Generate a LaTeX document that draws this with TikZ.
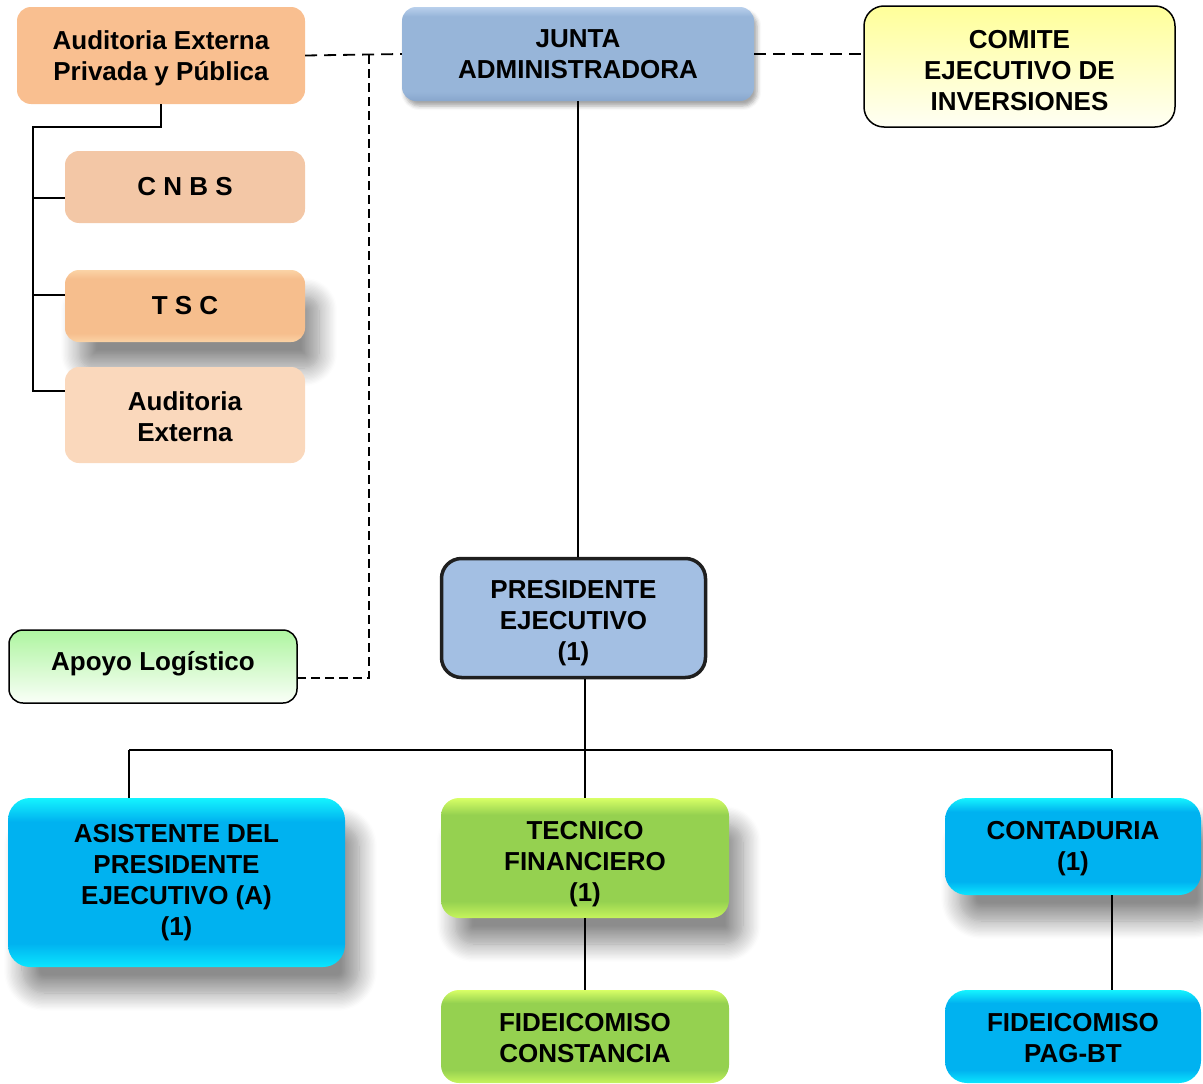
\documentclass[tikz,border=0pt]{standalone}
\usepackage{fontspec}
\setmainfont{Liberation Sans}
\usetikzlibrary{shadows.blur,calc}
\definecolor{cyT}{HTML}{14F4FF}
\definecolor{cyM}{HTML}{00B2F0}
\definecolor{cyB}{HTML}{0AE6FF}
\definecolor{grT}{HTML}{D8FF66}
\definecolor{grM}{HTML}{95D150}
\definecolor{grB}{HTML}{C6F45C}
\definecolor{blT}{HTML}{B9D0EC}
\definecolor{blM}{HTML}{97B5D9}
\definecolor{blB}{HTML}{88A6CC}
\definecolor{orA}{HTML}{F9BF90}
\definecolor{orB}{HTML}{F3C7A6}
\definecolor{orCT}{HTML}{FBD3A6}
\definecolor{orCM}{HTML}{F6BE8D}
\definecolor{orD}{HTML}{FAD8BC}
\definecolor{presfill}{HTML}{A3BFE3}
\definecolor{yelT}{HTML}{FFFF99}
\definecolor{yelB}{HTML}{FFFFF4}
\definecolor{apT}{HTML}{AEF5A0}
\definecolor{apB}{HTML}{FAFFF8}
\pgfdeclareverticalshading{cyanshade}{100bp}{color(0bp)=(cyB); color(25bp)=(cyB); color(32bp)=(cyM); color(68bp)=(cyM); color(75bp)=(cyT); color(100bp)=(cyT)}
\pgfdeclareverticalshading{greenshade}{100bp}{color(0bp)=(grB); color(25bp)=(grB); color(32bp)=(grM); color(68bp)=(grM); color(75bp)=(grT); color(100bp)=(grT)}
\pgfdeclareverticalshading{blueshade}{100bp}{color(0bp)=(blB); color(25bp)=(blB); color(30bp)=(blM); color(70bp)=(blM); color(75bp)=(blT); color(100bp)=(blT)}
\pgfdeclareverticalshading{tscshade}{100bp}{color(0bp)=(orCT); color(25bp)=(orCT); color(31bp)=(orCM); color(69bp)=(orCM); color(75bp)=(orCT); color(100bp)=(orCT)}
\newcommand\orgfont{\bfseries\fontsize{26}{31}\selectfont}
\newcommand\lowered[2]{\raisebox{-#1}[\height][\depth]{\begin{tabular}{@{}c@{}}#2\end{tabular}}}
\begin{document}
\begin{tikzpicture}[x=1pt,y=-1pt,
  orgbox/.style={rectangle, rounded corners=14pt, inner sep=0pt, align=center, font=\orgfont, text=black},
  bigshadow/.style={blur shadow={shadow xshift=14pt, shadow yshift=-26pt, shadow blur radius=18pt, shadow blur steps=14, shadow opacity=45}},
  smallshadow/.style={blur shadow={shadow xshift=3pt, shadow yshift=-5pt, shadow blur radius=4pt, shadow opacity=35}},
  cyanbox/.style={orgbox, rounded corners=22pt, shade, shading=cyanshade},
  greenbox/.style={orgbox, rounded corners=18pt, shade, shading=greenshade},
  conn/.style={line width=2pt, black},
  dconn/.style={line width=1.8pt, black, dash pattern=on 12pt off 7pt},
  vdconn/.style={line width=1.8pt, black, dash pattern=on 9pt off 5pt}
]
\useasboundingbox (0,0) rectangle (1203,1084);

% left column
\node[orgbox, fill=orA, minimum width=288pt, minimum height=97pt] (aud) at (161,55.5) {\lowered{3.5pt}{Auditoria Externa\\Privada y Pública}};
\node[orgbox, fill=orB, minimum width=240pt, minimum height=72pt] (cnbs) at (185,187) {C N B S};
\node[orgbox, shade, shading=tscshade, bigshadow, minimum width=240pt, minimum height=72pt] (tsc) at (185,306) {T S C};
\node[orgbox, fill=orD, minimum width=240pt, minimum height=96pt] (audext) at (185,415) {\lowered{5pt}{Auditoria\\Externa}};

% top row
\node[orgbox, shade, shading=blueshade, smallshadow, minimum width=352pt, minimum height=94pt] (junta) at (578,54) {JUNTA\\ADMINISTRADORA};
\node[orgbox, rounded corners=20pt, draw=black, line width=1.5pt, top color=yelT, bottom color=yelB, minimum width=311pt, minimum height=121pt] (comite) at (1019.5,66.5) {\lowered{7pt}{COMITE\\EJECUTIVO DE\\INVERSIONES}};

% president and support
\node[orgbox, rounded corners=20pt, draw=black!88, line width=3.5pt, fill=presfill, minimum width=264pt, minimum height=119pt] (pres) at (573.5,618) {\lowered{5.5pt}{PRESIDENTE\\EJECUTIVO\\(1)}};
\node[orgbox, rounded corners=14pt, draw=black, line width=1.5pt, top color=apT, bottom color=apB, minimum width=288pt, minimum height=73pt] (apoyo) at (153,666.5) {\raisebox{3pt}[\height][\depth]{Apoyo Logístico}};

% bottom row
\node[cyanbox, bigshadow, minimum width=337pt, minimum height=169pt] (asis) at (176.5,882.5) {ASISTENTE DEL\\PRESIDENTE\\EJECUTIVO (A)\\(1)};
\node[greenbox, bigshadow, minimum width=288pt, minimum height=120pt] (tec) at (585,858) {\lowered{6pt}{TECNICO\\FINANCIERO\\(1)}};
\node[cyanbox, bigshadow, minimum width=256pt, minimum height=97pt] (cont) at (1073,846.5) {\lowered{2pt}{CONTADURIA\\(1)}};
\node[greenbox, minimum width=288pt, minimum height=93pt] (fidc) at (585,1036.5) {\lowered{4pt}{FIDEICOMISO\\CONSTANCIA}};
\node[cyanbox, minimum width=256pt, minimum height=93pt] (fidp) at (1073,1036.5) {\lowered{4pt}{FIDEICOMISO\\PAG-BT}};

% solid connectors, left column
\coordinate (lb) at (33,127);
\draw[conn] (aud.south) |- (lb) -- ($(lb |- audext.west)+(0,-24)$) -- ($(audext.west)+(0,-24)$);
\draw[conn] ($(lb |- cnbs.west)+(0,11)$) -- ($(cnbs.west)+(0,11)$);
\draw[conn] ($(lb |- tsc.west)+(0,-11)$) -- ($(tsc.west)+(0,-11)$);

% dashed connectors
\coordinate (dv) at (369,55);
\draw[dconn] (aud.east) -- (junta.west);
\draw[vdconn] (dv) |- ($(apoyo.east)+(0,11.5)$);
\draw[dconn] (junta.east) -- (junta.east -| comite.west);

% main hierarchy
\draw[conn] (junta.south) -- (junta.south |- pres.north);
\coordinate (bus) at (585,750);
\coordinate (bl) at (129,750);
\coordinate (br) at (1112,750);
\draw[conn] (pres.south -| bus) -- (bus);
\draw[conn] (bl) -- (br);
\draw[conn] (bl) -- (bl |- asis.north);
\draw[conn] (bus) -- (tec.north);
\draw[conn] (br) -- (br |- cont.north);
\draw[conn] (tec.south) -- (fidc.north);
\draw[conn] (br |- cont.south) -- (br |- fidp.north);
\end{tikzpicture}
\end{document}
